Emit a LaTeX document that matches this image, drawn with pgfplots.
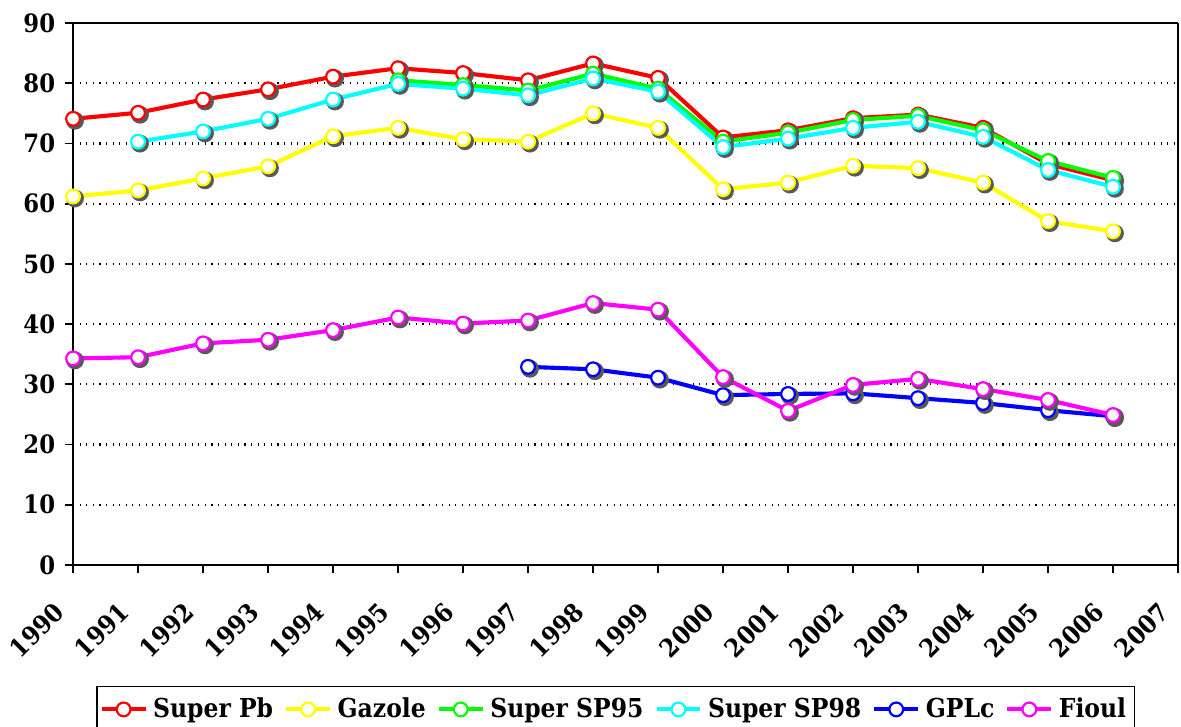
\documentclass[border=0pt]{standalone}
\usepackage{fontspec}
\setmainfont{DejaVu Serif Condensed}
\usepackage{pgfplots}
\usepackage{pgfplotstable}
\pgfplotsset{compat=1.18}
\definecolor{cpb}{RGB}{255,0,0}
\definecolor{cgaz}{RGB}{255,255,0}
\definecolor{csp95}{RGB}{0,255,0}
\definecolor{csp98}{RGB}{0,255,255}
\definecolor{cgpl}{RGB}{0,0,255}
\definecolor{cfioul}{RGB}{255,0,255}
\pgfplotstableread{
x pb gaz sp95 sp98 gpl fioul
1990 74.1 61.2 nan nan nan 34.3
1991 75.1 62.2 nan 70.3 nan 34.5
1992 77.3 64.2 nan 72.0 nan 36.8
1993 79.0 66.2 nan 74.1 nan 37.4
1994 81.1 71.2 nan 77.3 nan 39.0
1995 82.5 72.6 80.5 79.9 nan 41.1
1996 81.7 70.7 79.7 79.1 nan 40.1
1997 80.5 70.3 78.8 78.0 32.9 40.6
1998 83.3 75.0 81.6 80.8 32.5 43.5
1999 80.9 72.6 79.1 78.6 31.1 42.4
2000 71.0 62.4 70.3 69.4 28.2 31.2
2001 72.2 63.5 71.8 70.8 28.4 25.6
2002 74.2 66.3 73.9 72.6 28.5 29.9
2003 74.8 65.9 74.6 73.6 27.7 30.9
2004 72.6 63.5 72.2 71.1 26.9 29.2
2005 66.6 57.1 67.1 65.6 25.7 27.4
2006 63.9 55.4 64.3 62.8 24.7 24.9
}\data
\begin{document}
\begin{tikzpicture}
\begin{axis}[
  scale only axis,
  width=402.3pt, height=197.3pt,
  xmin=1990, xmax=2007, ymin=0, ymax=90,
  xtick={1990,1991,...,2007},
  ytick={0,10,...,90},
  /pgf/number format/1000 sep={},
  /pgf/number format/assume math mode=true,
  ticklabel style={font=\fontsize{9.2}{10}\selectfont\bfseries},
  xticklabel style={anchor=north east, inner sep=1pt, xshift=-7.5pt, yshift=-8.5pt, rotate=45},
  tick align=outside,
  major tick length=3pt,
  xtick pos=bottom, ytick pos=left,
  tick style={black, line width=0.6pt},
  axis line style={line width=0.5pt},
  separate axis lines,
  x axis line style={black, line width=0.7pt},
  y axis line style={black, line width=0.7pt},
  ymajorgrids,
  grid style={black, dotted, line width=0.8pt},
  unbounded coords=jump,
  legend columns=6,
  legend style={at={(0.491,-0.223)}, anchor=north, draw=black, line width=0.5pt,
    font=\fontsize{9.5}{10}\selectfont\bfseries, inner xsep=1pt, inner ysep=2pt,
    /tikz/every even column/.append style={column sep=2pt}},
  legend image code/.code={\draw[mark repeat=2,mark phase=2,#1] plot coordinates {(0pt,0pt)(8pt,0pt)(16pt,0pt)};},
  every axis plot/.append style={line width=1.5pt},
]
\addplot[only marks, mark=*, mark size=2.5pt, black!65, mark options={xshift=0.7pt,yshift=-0.7pt}, forget plot] table[x=x,y=pb]{\data};
\addplot[cpb, mark=*, mark size=2.5pt, mark options={fill=white, draw=cpb, line width=0.8pt}] table[x=x,y=pb]{\data};
\addplot[only marks, mark=*, mark size=2.5pt, black!65, mark options={xshift=0.7pt,yshift=-0.7pt}, forget plot] table[x=x,y=gaz]{\data};
\addplot[cgaz, mark=*, mark size=2.5pt, mark options={fill=white, draw=cgaz, line width=0.8pt}] table[x=x,y=gaz]{\data};
\addplot[only marks, mark=*, mark size=2.5pt, black!65, mark options={xshift=0.7pt,yshift=-0.7pt}, forget plot] table[x=x,y=sp95]{\data};
\addplot[csp95, mark=*, mark size=2.5pt, mark options={fill=white, draw=csp95, line width=0.8pt}] table[x=x,y=sp95]{\data};
\addplot[only marks, mark=*, mark size=2.5pt, black!65, mark options={xshift=0.7pt,yshift=-0.7pt}, forget plot] table[x=x,y=sp98]{\data};
\addplot[csp98, mark=*, mark size=2.5pt, mark options={fill=white, draw=csp98, line width=0.8pt}] table[x=x,y=sp98]{\data};
\addplot[only marks, mark=*, mark size=2.5pt, black!65, mark options={xshift=0.7pt,yshift=-0.7pt}, forget plot] table[x=x,y=gpl]{\data};
\addplot[cgpl, mark=*, mark size=2.5pt, mark options={fill=white, draw=cgpl, line width=0.8pt}] table[x=x,y=gpl]{\data};
\addplot[only marks, mark=*, mark size=2.5pt, black!65, mark options={xshift=0.7pt,yshift=-0.7pt}, forget plot] table[x=x,y=fioul]{\data};
\addplot[cfioul, mark=*, mark size=2.5pt, mark options={fill=white, draw=cfioul, line width=0.8pt}] table[x=x,y=fioul]{\data};
\legend{Super Pb, Gazole, Super SP95, Super SP98, GPLc, Fioul}
\coordinate (ll) at (rel axis cs:0,0);
\coordinate (ur) at (rel axis cs:1,1);
\end{axis}
\pgfresetboundingbox
\path[use as bounding box] ([xshift=-26.6pt,yshift=-59pt]ll) rectangle ([xshift=1.1pt,yshift=8.4pt]ur);
\end{tikzpicture}
\end{document}
